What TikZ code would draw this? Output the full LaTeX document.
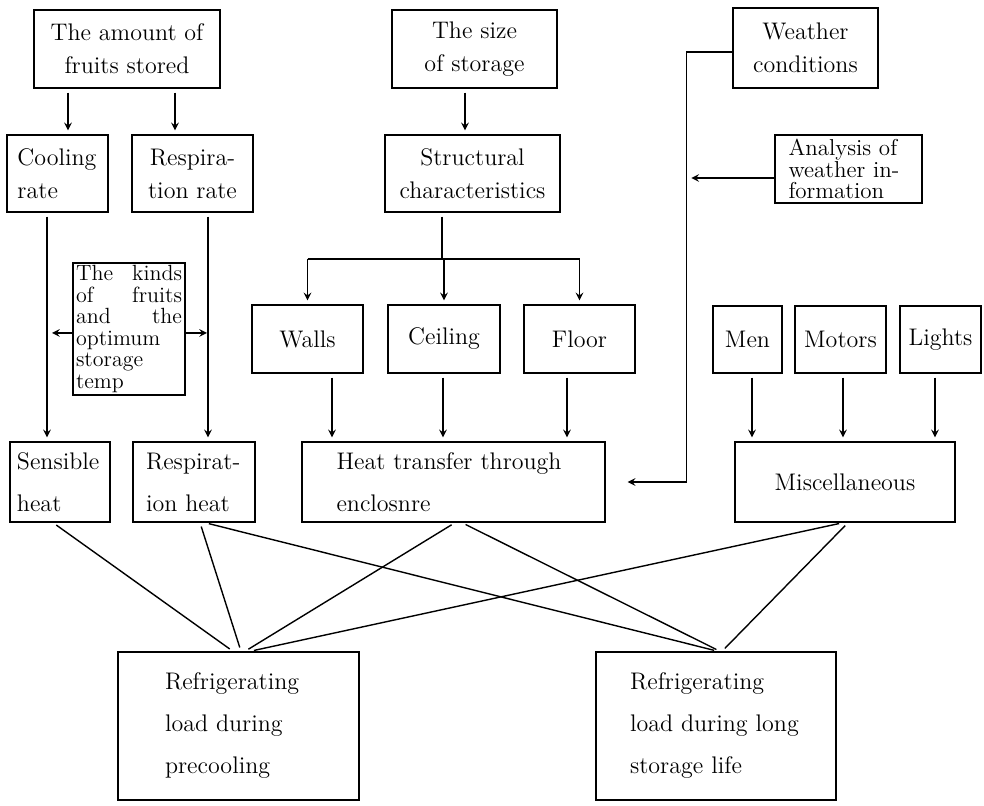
\documentclass[tikz,border=0pt]{standalone}
\usepackage{amsmath}
\usepackage{tikz}
\usetikzlibrary{arrows.meta}

\tikzset{
  box/.style={draw,line width=0.7pt,inner sep=2pt,align=center,font=\fontsize{12}{16.5}\selectfont},
  lowbox/.style={box,minimum height=40pt,font=\fontsize{12}{21}\selectfont},
  tightbox/.style={box,inner sep=1pt,font=\fontsize{11.5}{10.8}\selectfont},
  link/.style={line width=0.7pt,shorten <=2pt,shorten >=2pt}
}

\begin{document}
\begin{tikzpicture}[>=stealth,x=0.5pt,y=-0.5pt,line width=0.7pt]
\useasboundingbox (0,0) rectangle (984,806);

\node[box,minimum width=93pt,minimum height=39pt](amount) at (127,49){The amount of\\fruits stored};
\node[box,minimum width=82.5pt,minimum height=39pt](size) at (474.5,49){The size\\of storage};
\node[box,minimum width=72.5pt,minimum height=40pt](weather) at (805.5,48){Weather\\conditions};
\node[box,minimum width=50.5pt,minimum height=38.5pt,align=left,text width=40pt](cool) at (57.5,173.5){Cooling\\rate};
\node[box,minimum width=60.5pt,minimum height=38.5pt](resprate) at (192.5,173.5){Respira-\\tion rate};
\node[box,minimum width=87.5pt,minimum height=38.5pt](struct) at (472.5,173.5){Structural\\characteristics};
\node[tightbox,minimum width=73.5pt,minimum height=34pt,align=left,text width=60pt](analysis) at (848.5,169){Analysis of\\weather in-\\formation};
\node[tightbox,minimum width=56pt,minimum height=66pt,align=left,text width=53pt,font=\fontsize{11}{10.8}\selectfont](kinds) at (129,329)
  {The\hfill kinds\\of\hfill fruits\\and\hfill the\\optimum\\storage\\temp};

\node[box,minimum width=55.5pt,minimum height=34pt](walls) at (307.5,339){Walls};
\node[box,minimum width=56pt,minimum height=34pt](ceiling) at (444,339){Ceiling};
\node[box,minimum width=55.5pt,minimum height=34pt](floor) at (579.5,339){Floor};
\node[box,minimum width=34.5pt,minimum height=33.5pt](men) at (747.5,339.5){Men};
\node[box,minimum width=45.5pt,minimum height=33.5pt](motors) at (840.5,339.5){Motors};
\node[box,minimum width=40.5pt,minimum height=33.5pt](lights) at (940.5,339.5){Lights};

\node[lowbox,minimum width=50pt,align=left,text width=43pt](sens) at (60,482){Sensible\\heat};
\node[lowbox,minimum width=61pt,align=left,text width=48pt](respheat) at (194,482){Respirat-\\ion heat};
\node[lowbox,minimum width=151.5pt,align=left,text width=117pt](transfer) at (453.5,482){Heat transfer through\\enclosnre};
\node[lowbox,minimum width=110pt](misc) at (845,482){Miscellaneous};

\node[lowbox,minimum width=120.5pt,minimum height=74pt,align=left,text width=73.5pt](precool) at (238.5,726)
  {Refrigerating\\load during\\precooling};
\node[lowbox,minimum width=120pt,minimum height=74pt,align=left,text width=86pt](longlife) at (716,726)
  {Refrigerating\\load during long\\storage life};

\draw[->,link]([xshift=-29.5pt]amount.south)--([xshift=-29.5pt]amount.south |- cool.north);
\draw[->,link]([xshift=24pt]amount.south)--([xshift=24pt]amount.south |- resprate.north);
\draw[->,link]([xshift=-4.75pt]size.south)--([xshift=-4.75pt]size.south |- struct.north);

\coordinate (bus) at (442,259);
\draw[shorten <=2pt](struct.south -| bus)--(bus);
\draw(walls.north |- bus)--(floor.north |- bus);
\foreach \n in {walls,ceiling,floor}
  \draw[->,shorten >=2pt](\n.north |- bus)--(\n.north);

\draw[->,link]([xshift=12.25pt]walls.south)--([xshift=12.25pt]walls.south |- transfer.north);
\draw[->,link]([xshift=-0.5pt]ceiling.south)--([xshift=-0.5pt]ceiling.south |- transfer.north);
\draw[->,link]([xshift=-6.25pt]floor.south)--([xshift=-6.25pt]floor.south |- transfer.north);
\draw[->,link]([xshift=2.25pt]men.south)--([xshift=2.25pt]men.south |- misc.north);
\draw[->,link]([xshift=1.25pt]motors.south)--([xshift=1.25pt]motors.south |- misc.north);
\draw[->,link]([xshift=-2.75pt]lights.south)--([xshift=-2.75pt]lights.south |- misc.north);

\coordinate (cx) at ([xshift=-5.25pt]cool.south);
\coordinate (rx) at ([xshift=7.75pt]resprate.south);
\draw[->,link](cx)--(cx |- sens.north);
\draw[->,link](rx)--(rx |- respheat.north);
\draw[->,shorten >=2.5pt]([yshift=-2pt]kinds.west)--([yshift=-2pt]kinds.west -| cx);
\draw[->,shorten >=0.5pt]([yshift=-2pt]kinds.east)--([yshift=-2pt]kinds.east -| rx);

\coordinate (wx) at ([xshift=-23pt,yshift=-2pt]weather.west);
\draw[->,shorten >=11pt]([yshift=-2pt]weather.west)--(wx)|-(transfer.east);
\draw[->,shorten >=2.5pt]([yshift=-4.5pt]analysis.west)--([yshift=-4.5pt]analysis.west -| wx);

\draw[link]([xshift=-3.5pt]sens.south)--([xshift=-2.75pt]precool.north);
\draw[link]([xshift=3pt]respheat.south)--([xshift=1.25pt]precool.north);
\draw[link]([xshift=5.5pt]respheat.south)--([xshift=1pt]longlife.north);
\draw[link]([xshift=0.75pt]transfer.south)--([xshift=3.25pt]precool.north);
\draw[link]([xshift=4.25pt]transfer.south)--([xshift=2pt]longlife.north);
\draw[link]([xshift=-1pt]misc.south)--([xshift=5.75pt]precool.north);
\draw[link]([xshift=1.5pt]misc.south)--([xshift=3pt]longlife.north);
\end{tikzpicture}
\end{document}
